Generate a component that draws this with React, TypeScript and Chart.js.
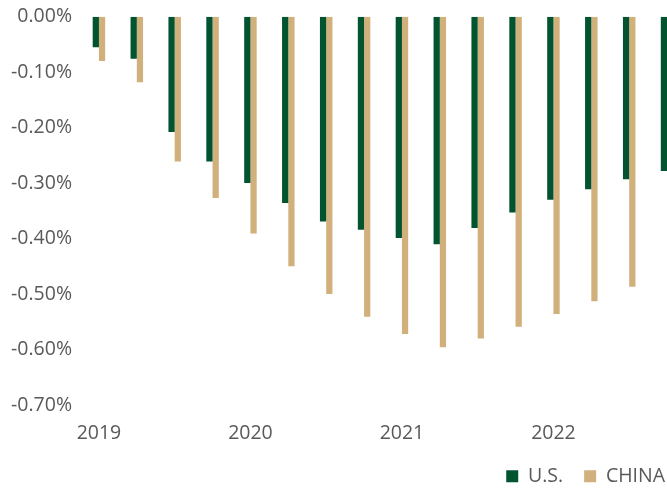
import React, { useEffect, useRef } from "react";
import { Chart, registerables } from "chart.js";

Chart.register(...registerables);

const quarters = [
  "2019 Q1", "2019 Q2", "2019 Q3", "2019 Q4",
  "2020 Q1", "2020 Q2", "2020 Q3", "2020 Q4",
  "2021 Q1", "2021 Q2", "2021 Q3", "2021 Q4",
  "2022 Q1", "2022 Q2", "2022 Q3", "2022 Q4",
];
const yearTicks = ["2019", "2020", "2021", "2022"];
const seriesNames = ["U.S.", "CHINA"];
const usValues = [
  -0.055, -0.076, -0.208, -0.261, -0.300, -0.336, -0.369, -0.384,
  -0.399, -0.410, -0.381, -0.353, -0.330, -0.311, -0.293, -0.278,
];
const chinaValues = [
  -0.080, -0.118, -0.261, -0.327, -0.391, -0.450, -0.500, -0.541,
  -0.572, -0.596, -0.580, -0.559, -0.536, -0.513, -0.487, -0.462,
];

const GREEN = "#02532F";
const TAN = "#D2B07B";
const TEXT = "#595959";
const FONT = { family: "'Open Sans', sans-serif", size: 19.5 };

export default function App() {
  const ref = useRef<HTMLCanvasElement>(null);

  useEffect(() => {
    if (!ref.current) return;
    const chart = new Chart(ref.current, {
      type: "bar",
      data: {
        labels: quarters,
        datasets: [
          {
            label: seriesNames[0],
            data: usValues,
            backgroundColor: GREEN,
            categoryPercentage: 0.33,
            barPercentage: 1,
          },
          {
            label: seriesNames[1],
            data: chinaValues,
            backgroundColor: TAN,
            categoryPercentage: 0.33,
            barPercentage: 1,
          },
        ],
      },
      options: {
        animation: false,
        responsive: true,
        maintainAspectRatio: false,
        layout: { padding: { top: 16.7, left: 0, right: 0, bottom: 0 } },
        plugins: {
          legend: {
            position: "bottom",
            align: "end",
            labels: {
              boxWidth: 12,
              boxHeight: 12,
              padding: 21,
              color: TEXT,
              font: FONT,
            },
          },
          tooltip: { enabled: false },
        },
        scales: {
          x: {
            grid: { display: false, drawTicks: false },
            border: { display: false },
            ticks: {
              autoSkip: false,
              maxRotation: 0,
              minRotation: 0,
              padding: 17,
              color: TEXT,
              font: FONT,
              callback: (_v: any, i: number) => (i % 4 === 0 ? yearTicks[i / 4] : ""),
            },
            afterFit: (s: any) => {
              s.height = 40.5;
              s.paddingLeft = 0;
              s.paddingRight = 0;
            },
          },
          y: {
            min: -0.7,
            max: 0,
            grid: { display: false, drawTicks: false },
            border: { display: false },
            ticks: {
              stepSize: 0.1,
              padding: 8,
              color: TEXT,
              font: FONT,
              callback: (v: any) => Number(v).toFixed(2) + "%",
            },
            afterFit: (s: any) => {
              s.width = 80;
              s.paddingTop = 0;
              s.paddingBottom = 0;
            },
          },
        },
      },
    } as any);
    return () => chart.destroy();
  }, []);

  return (
    <div
      style={{
        position: "absolute",
        left: 0,
        top: 0,
        width: 667,
        height: 489,
        overflow: "hidden",
        background: "#fff",
      }}
    >
      <div style={{ position: "relative", width: 686, height: 496 }}>
        <canvas ref={ref} />
      </div>
    </div>
  );
}
